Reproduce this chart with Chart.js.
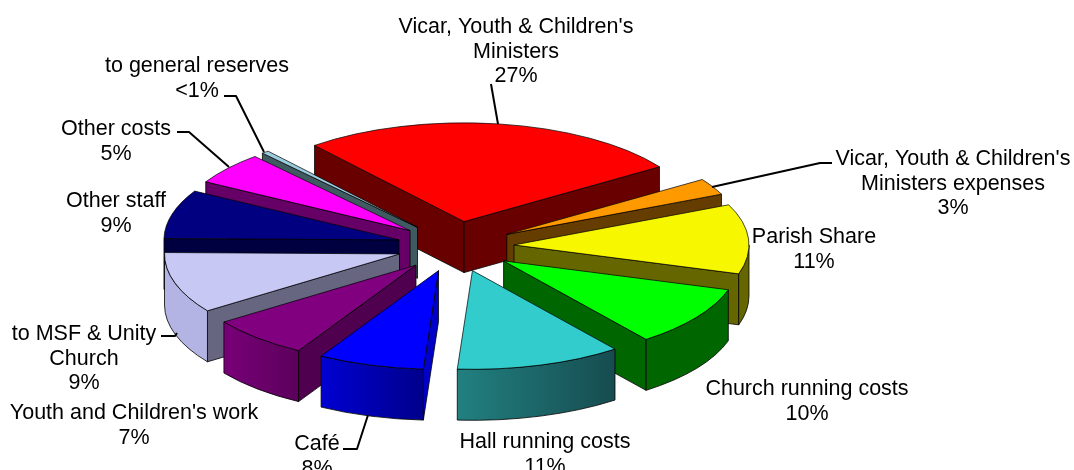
<!DOCTYPE html>
<html>
<head>
<meta charset="utf-8">
<style>
  html, body { margin: 0; padding: 0; background: #fff; overflow: hidden; }
  #wrap { width: 1074px; height: 470px; position: relative; }
</style>
<script src="https://cdn.jsdelivr.net/npm/chart.js@4"></script>
</head>
<body>
<div id="wrap"><canvas id="budgetPie"></canvas></div>
<script>
// slices, clockwise from the big red one
const categories = ["Vicar, Youth & Children's Ministers", "Vicar, Youth & Children's Ministers expenses",
    'Parish Share', 'Church running costs', 'Hall running costs', 'Café', "Youth and Children's work",
    'to MSF & Unity Church', 'Other staff', 'Other costs', 'to general reserves'];
const shares = [26.6, 2.7, 11.4, 9.9, 11.4, 7.3, 6.9, 10, 8, 5.3, 0.5];
const percentLabels = ['27%', '3%', '11%', '10%', '11%', '8%', '7%', '9%', '9%', '5%', '<1%'];

const topColors = ['#ff0000', '#ff9900', '#f7f700', '#00ff00', '#33cccc', '#0000ff', '#800080', '#c8c8f5', '#000080', '#ff00ff', '#99ccdd'];
const cutColors = ['#680000', '#663d00', '#666600', '#006600', '#145050', '#0000c8', '#4f004f', '#666680', '#000040', '#660066', '#3f5a60'];
const wallLeft = ['#680000', '#663d00', '#666600', '#006600', '#228080', '#0000d2', '#780078', '#b4b4e4', '#000040', '#660066', '#3f5a60'];
const wallRight = ['#680000', '#663d00', '#666600', '#006600', '#164c50', '#00008c', '#5c005c', '#b4b4e4', '#000040', '#660066', '#3f5a60'];

// how the flat pie is tilted and pulled apart
const tilt = 0.42;
const explodeTilt = 0.43;
const depth = 51;
const explode = 58.6;

// text blocks: lines, centre x, first baseline
const labelBlocks = [
    { lines: ["Vicar, Youth & Children's", 'Ministers', percentLabels[0]], x: 516, y: 33 },
    { lines: ["Vicar, Youth & Children's", 'Ministers expenses', percentLabels[1]], x: 953, y: 165 },
    { lines: ['Parish Share', percentLabels[2]], x: 814, y: 243 },
    { lines: ['Church running costs', percentLabels[3]], x: 807, y: 395 },
    { lines: ['Hall running costs', percentLabels[4]], x: 545, y: 448 },
    { lines: ['Café', percentLabels[5]], x: 317, y: 450 },
    { lines: ["Youth and Children's work", percentLabels[6]], x: 134, y: 419 },
    { lines: ['to MSF & Unity', 'Church', percentLabels[7]], x: 84, y: 340 },
    { lines: ['Other staff', percentLabels[8]], x: 116, y: 207 },
    { lines: ['Other costs', percentLabels[9]], x: 116, y: 135 },
    { lines: ['to general reserves', percentLabels[10]], x: 197, y: 72 }
];
const leaderLines = [
    [[491, 84], [498, 124]],
    [[832, 163], [820, 163], [712, 187]],
    [[343, 449], [357, 449], [368, 415]],
    [[161, 336], [175, 336], [177, 333]],
    [[177, 132], [189, 132], [229, 167]],
    [[224, 96], [236, 96], [264, 152]]
];

function drawSlice(ctx, el, i) {
    const { x, y, startAngle, endAngle, outerRadius: r } = el.getProps(['x', 'y', 'startAngle', 'endAngle', 'outerRadius']);
    const mid = (startAngle + endAngle) / 2;
    const px = x + Math.cos(mid) * explode;
    const py = y + Math.sin(mid) * explode * explodeTilt;
    const edgeX = a => px + Math.cos(a) * r;
    const edgeY = a => py + Math.sin(a) * r * tilt;

    ctx.strokeStyle = '#000';
    ctx.lineWidth = 0.8;
    ctx.lineJoin = 'round';

    const cutFace = (a) => {
        ctx.beginPath();
        ctx.moveTo(px, py);
        ctx.lineTo(edgeX(a), edgeY(a));
        ctx.lineTo(edgeX(a), edgeY(a) + depth);
        ctx.lineTo(px, py + depth);
        ctx.closePath();
        ctx.fillStyle = cutColors[i];
        ctx.fill();
        ctx.stroke();
    };
    if (Math.cos(startAngle) < 0) cutFace(startAngle);
    if (Math.cos(endAngle) > 0) cutFace(endAngle);

    // outer rim, only the part that faces the viewer
    const a0 = Math.max(startAngle, 0);
    const a1 = Math.min(endAngle, Math.PI);
    if (a1 > a0) {
        const grad = ctx.createLinearGradient(edgeX(a1), 0, edgeX(a0), 0);
        grad.addColorStop(0, wallLeft[i]);
        grad.addColorStop(1, wallRight[i]);
        ctx.beginPath();
        ctx.ellipse(px, py, r, r * tilt, 0, a0, a1);
        ctx.ellipse(px, py + depth, r, r * tilt, 0, a1, a0, true);
        ctx.closePath();
        ctx.fillStyle = grad;
        ctx.fill();
        ctx.stroke();
    }

    // top face is the library's own arc, squashed and moved
    ctx.save();
    ctx.translate(px - x, py);
    ctx.scale(1, tilt);
    ctx.translate(0, -y);
    el.draw(ctx);
    ctx.restore();
}

const tiltedPie = {
    id: 'tiltedPie',
    beforeDatasetDraw(chart, args) {
        const ctx = chart.ctx;
        const arcs = args.meta.data.map((el, i) => ({ el, i }));
        arcs.sort((a, b) => Math.sin((a.el.startAngle + a.el.endAngle) / 2) - Math.sin((b.el.startAngle + b.el.endAngle) / 2));
        arcs.forEach(a => drawSlice(ctx, a.el, a.i));
        return false;
    },
    afterDraw(chart) {
        const ctx = chart.ctx;
        ctx.save();
        ctx.strokeStyle = '#000';
        ctx.lineWidth = 2;
        ctx.lineJoin = 'round';
        leaderLines.forEach(line => {
            ctx.beginPath();
            line.forEach((p, n) => n ? ctx.lineTo(p[0], p[1]) : ctx.moveTo(p[0], p[1]));
            ctx.stroke();
        });
        ctx.fillStyle = '#000';
        ctx.font = '21.5px "Liberation Sans", Arial, sans-serif';
        ctx.textAlign = 'center';
        ctx.textBaseline = 'alphabetic';
        labelBlocks.forEach(b => {
            b.lines.forEach((text, n) => ctx.fillText(text, b.x, b.y + n * 24.6));
        });
        ctx.restore();
    }
};

new Chart(document.getElementById('budgetPie'), {
    type: 'pie',
    data: {
        labels: categories,
        datasets: [{
            data: shares,
            backgroundColor: topColors,
            borderColor: '#000',
            borderWidth: 1
        }]
    },
    options: {
        responsive: true,
        maintainAspectRatio: false,
        animation: false,
        rotation: -39.5,
        radius: 235,
        layout: { padding: { right: 163, top: 23 } },
        plugins: { legend: { display: false }, tooltip: { enabled: false } }
    },
    plugins: [tiltedPie]
});
</script>
</body>
</html>
